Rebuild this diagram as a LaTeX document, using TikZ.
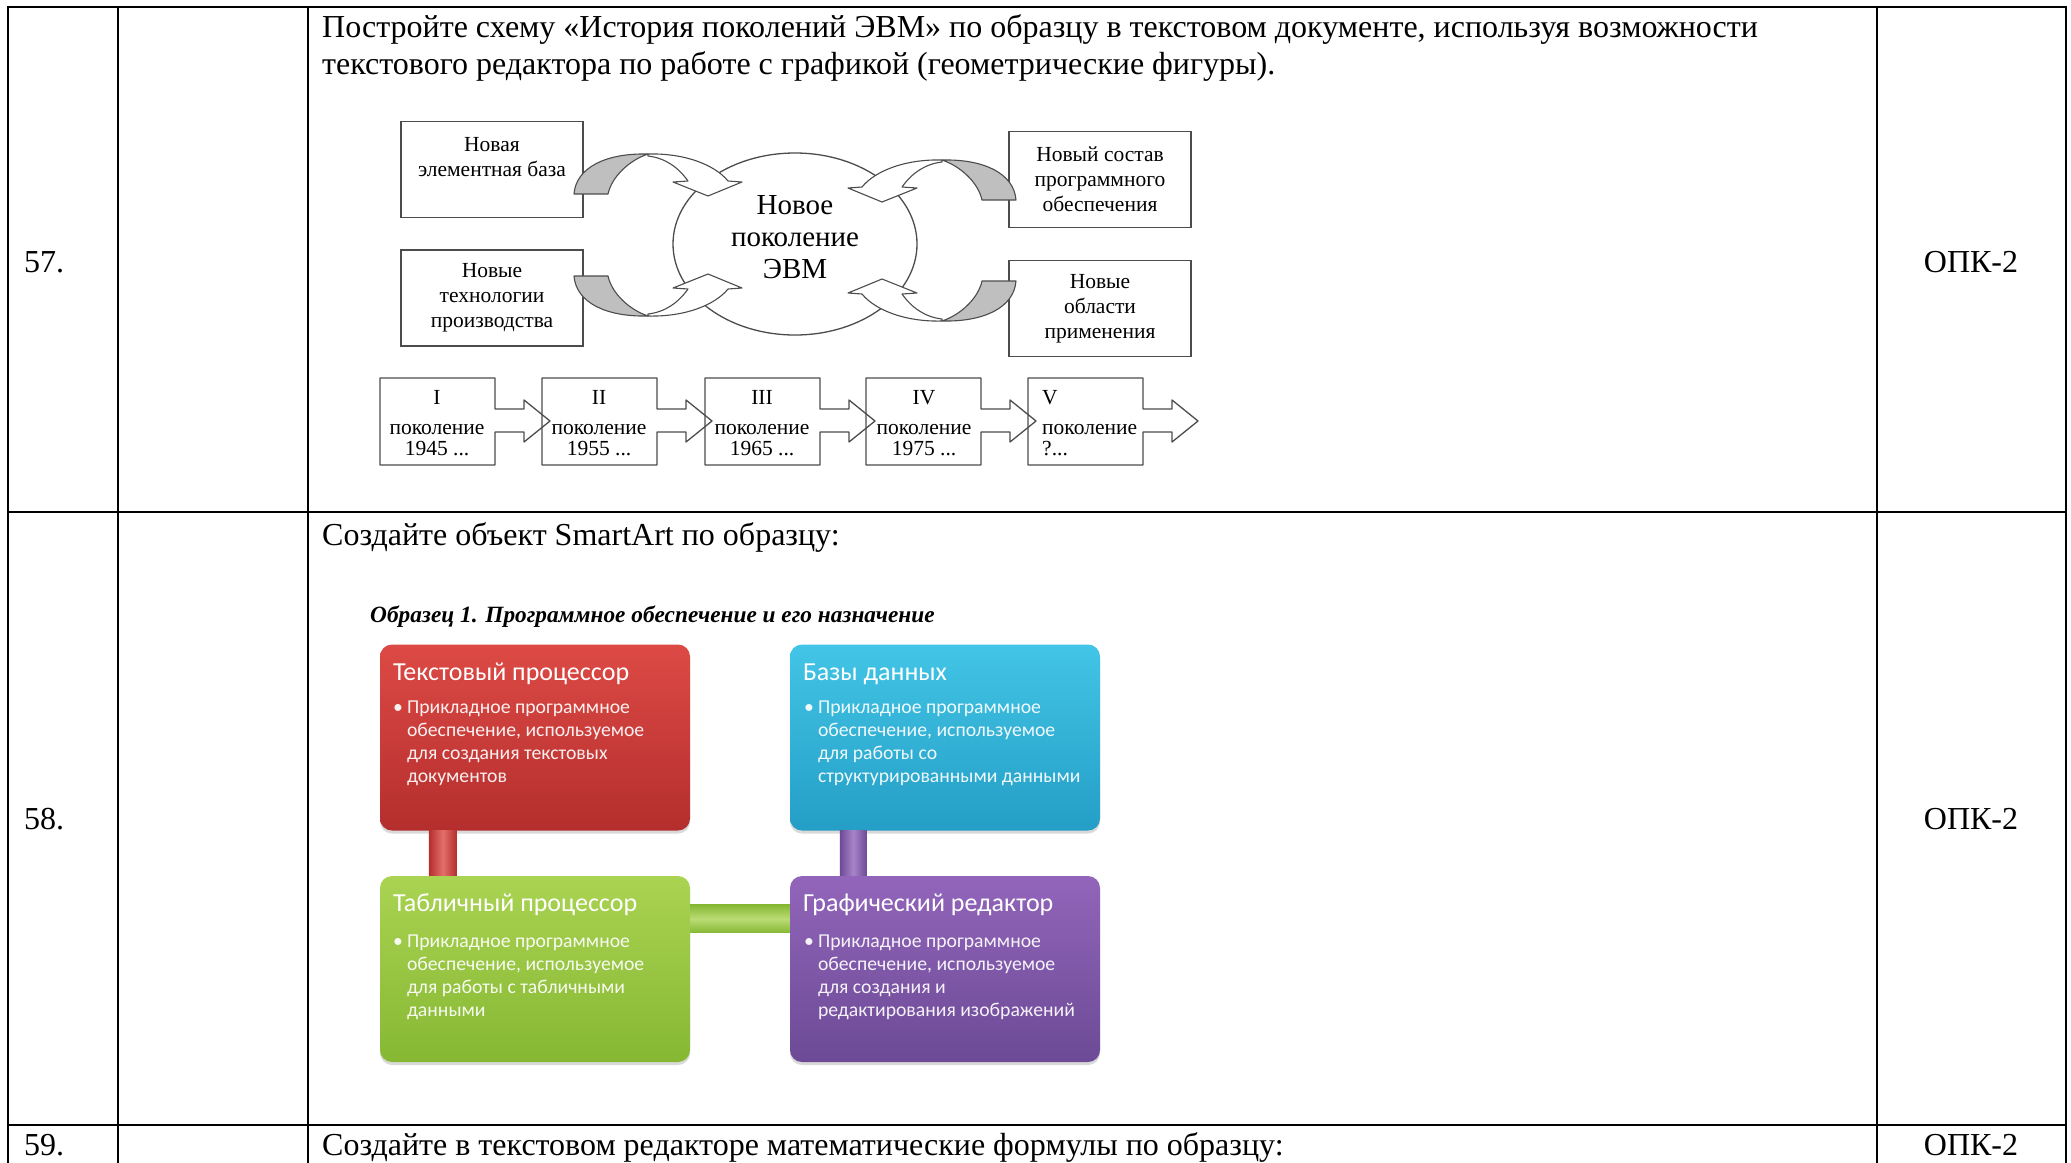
\documentclass[tikz,border=0pt]{standalone}
\usepackage{fontspec}
\setmainfont{Liberation Serif}
\newfontfamily\calib{Carlito}
\usetikzlibrary{shadows}
\definecolor{tpred}{RGB}{221,74,69}
\definecolor{tpredd}{RGB}{180,46,45}
\definecolor{dbblue}{RGB}{66,197,230}
\definecolor{dbblued}{RGB}{36,158,198}
\definecolor{tbgreen}{RGB}{170,211,82}
\definecolor{tbgreend}{RGB}{134,184,52}
\definecolor{grpurp}{RGB}{146,101,186}
\definecolor{grpurpd}{RGB}{108,74,150}
\newcommand\bendarrow{%
	\filldraw[curvearr,fill=gray!50] (574,194) .. controls (576,168) and (605,153) .. (648,154) .. controls (630,160) and (612,176) .. (608,194) -- cycle;
	\filldraw[curvearr,fill=white] (648,154) .. controls (685,153) and (715,165) .. (728,181) -- (742,182) -- (708,196) -- (673,182) -- (688,181) .. controls (678,167) and (665,158) .. (648,156) -- cycle;}

\begin{document}
\begin{tikzpicture}[x=1pt,y=-1pt,
		tab/.style={line width=2pt},
		row/.style={line width=2.6pt},
		txt/.style={font=\fontsize{32}{37}\selectfont,inner sep=0pt},
		blk/.style={draw=black!70,line width=1.3pt,fill=white,minimum width=182pt,minimum height=96pt,align=center,font=\fontsize{21.5}{25}\selectfont,inner sep=0pt},
		curvearr/.style={draw=black!70,line width=1.1pt,line join=round},
		gen/.style={align=center,font=\fontsize{21.5}{21}\selectfont,inner sep=0pt},
		sbox/.style={rounded corners=12pt,minimum width=310pt,minimum height=186pt,drop shadow={opacity=.3,shadow xshift=0pt,shadow yshift=-3pt}},
		stitle/.style={anchor=base west,text=white,font=\calib\fontsize{26}{30}\selectfont,inner sep=0pt},
		sbody/.style={anchor=base west,text=white,text opacity=.92,align=left,font=\calib\fontsize{19.7}{23}\selectfont,inner sep=0pt}]
	\useasboundingbox (0,0) rectangle (2071,1162);
	\draw[tab] (8,6) -- (8,1170) (118,6) -- (118,1170) (308,6) -- (308,1170) (1877,6) -- (1877,1170) (2066,6) -- (2066,1170);
	\draw[row] (7,7) -- (2067,7) (7,512) -- (2067,512) (7,1125) -- (2067,1125);
	\node[txt,anchor=base west] (n57) at (24,272) {57.};
	\node[txt,anchor=base west] (n58) at (24,829) {58.};
	\node[txt,anchor=base west] (n59) at (24,1155) {59.};
	\node[txt,anchor=base] (k57) at (1971,272) {ОПК-2};
	\node[txt,anchor=base] (k58) at (1971,829) {ОПК-2};
	\node[txt,anchor=base] (k59) at (1971,1155) {ОПК-2};
	\node[txt,anchor=base west] (q57a) at (322,37) {Постройте схему «История поколений ЭВМ» по образцу в текстовом документе, используя возможности};
	\node[txt,anchor=base west] (q57b) at (322,74) {текстового редактора по работе с графикой (геометрические фигуры).};
	\node[txt,anchor=base west] (q58) at (322,545) {Создайте объект SmartArt по образцу:};
	\node[txt,anchor=base west] (q59) at (322,1155) {Создайте в текстовом редакторе математические формулы по образцу:};

	\draw[draw=black!70,line width=1.3pt] (795,244) ellipse [x radius=122,y radius=91];
	\node[align=center,font=\fontsize{29}{32}\selectfont,inner sep=0pt] (evm) at (795,237) {Новое\\поколение\\ЭВМ};
	\node[blk] (elem) at (492,169.5) {Новая\\элементная база\\~};
	\node[blk] (tech) at (492,298) {Новые\\технологии\\производства};
	\node[blk] (soft) at (1100,179.5) {Новый состав\\программного\\обеспечения};
	\node[blk] (appl) at (1100,308.5) {Новые\\области\\применения};
	\bendarrow
	\begin{scope}[shift={(1590,6)},xscale=-1]
		\bendarrow
	\end{scope}
	\begin{scope}[shift={(0,470)},yscale=-1]
		\bendarrow
	\end{scope}
	\begin{scope}[shift={(1590,475)},xscale=-1,yscale=-1]
		\bendarrow
	\end{scope}

	\foreach \x in {380,542,705,866,1028}
		\draw[curvearr,line width=1.3pt] (\x,378) -- ({\x+115},378) -- ({\x+115},409) -- ({\x+144},409) -- ({\x+144},400) -- ({\x+170},421) -- ({\x+144},442) -- ({\x+144},432) -- ({\x+115},432) -- ({\x+115},465) -- (\x,465) -- cycle;
	\foreach \x/\r/\yr [count=\i] in {437/I/1945,599/II/1955,762/III/1965,924/IV/1975}
		\node[gen] (g\i) at (\x,423) {\r\\[9pt]поколение\\\yr\ ...};
	\node[gen,align=left,anchor=west] (g5) at (1042,423) {V\\[9pt]поколение\\?...};

	\node[txt,anchor=base west,font=\fontsize{23.3}{26}\selectfont\bfseries\itshape] (obr) at (370,622) {Образец 1. Программное обеспечение и его назначение};
	\node[sbox,top color=tpred,bottom color=tpredd] (tproc) at (535,737.5) {};
	\node[sbox,top color=dbblue,bottom color=dbblued] (dbase) at (945,737.5) {};
	\node[sbox,top color=tbgreen,bottom color=tbgreend] (tabproc) at (535,969) {};
	\node[sbox,top color=grpurp,bottom color=grpurpd] (gred) at (945,969) {};
	\shade[left color=tpredd,right color=tpredd,middle color=tpred!80!white] ([xshift=49pt]tproc.south west) rectangle ([xshift=77pt]tabproc.north west);
	\shade[left color=grpurpd,right color=grpurpd,middle color=grpurp!80!white] ([xshift=50pt]dbase.south west) rectangle ([xshift=77pt]gred.north west);
	\shade[top color=tbgreend,bottom color=tbgreend,middle color=tbgreen!80!white] ([yshift=-29pt]tabproc.north east) rectangle ([yshift=-57pt]gred.north west);
	\node[stitle] (tproc-t) at ([shift={(13,36)}]tproc.north west) {Текстовый процессор};
	\node[stitle] (dbase-t) at ([shift={(13,36)}]dbase.north west) {Базы данных};
	\node[stitle] (tabproc-t) at ([shift={(13,36)}]tabproc.north west) {Табличный процессор};
	\node[stitle] (gred-t) at ([shift={(13,36)}]gred.north west) {Графический редактор};
	\node[sbody] (tproc-b) at ([shift={(27,138)}]tproc.north west) {\llap{•\hspace{4pt}}Прикладное программное\\обеспечение, используемое\\для создания текстовых\\документов};
	\node[sbody] (dbase-b) at ([shift={(28,138)}]dbase.north west) {\llap{•\hspace{4pt}}Прикладное программное\\обеспечение, используемое\\для работы со\\структурированными данными};
	\node[sbody] (tabproc-b) at ([shift={(27,141)}]tabproc.north west) {\llap{•\hspace{4pt}}Прикладное программное\\обеспечение, используемое\\для работы с табличными\\данными};
	\node[sbody] (gred-b) at ([shift={(28,141)}]gred.north west) {\llap{•\hspace{4pt}}Прикладное программное\\обеспечение, используемое\\для создания и\\редактирования изображений};
\end{tikzpicture}
\end{document}
